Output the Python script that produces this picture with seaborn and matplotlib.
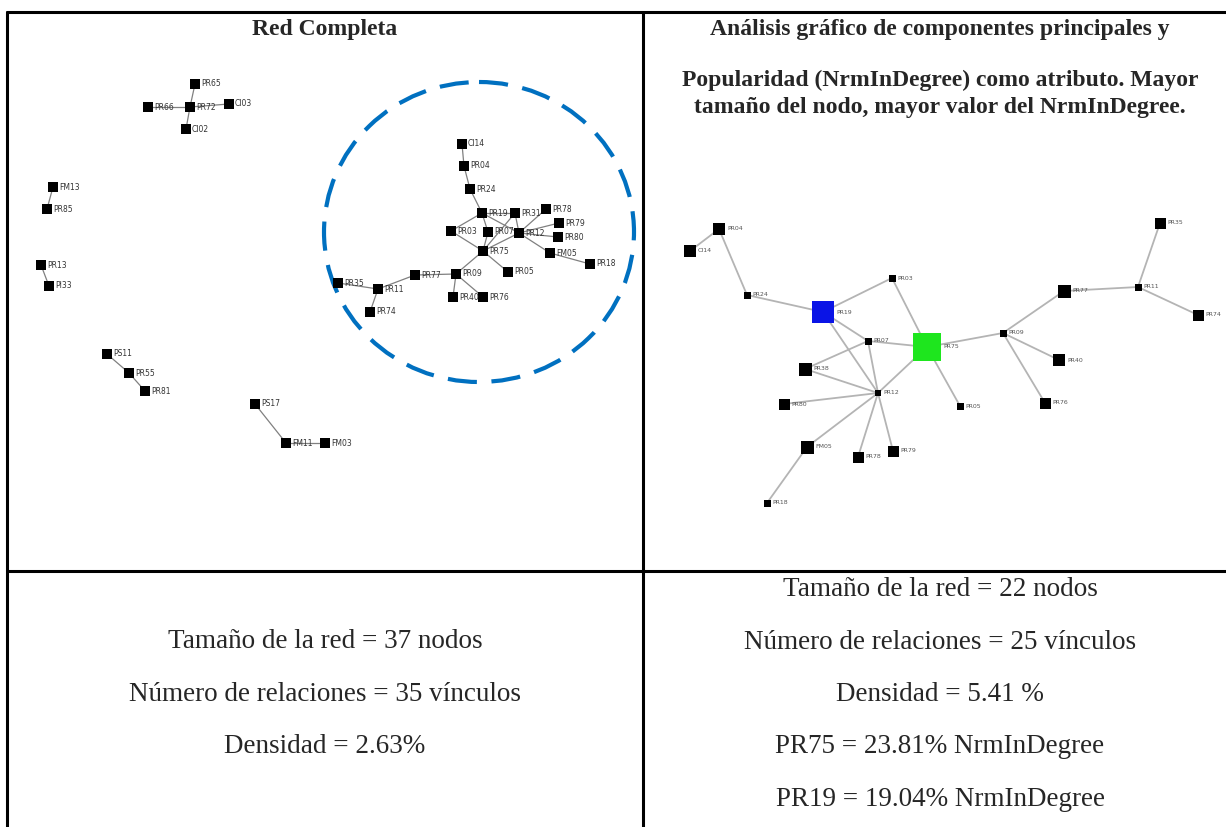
import matplotlib
matplotlib.use("Agg")
import matplotlib.pyplot as plt
from matplotlib.patches import Ellipse
import seaborn as sns
import pandas as pd

sns.set_theme(style="white")
plt.rcParams['font.family'] = ['Liberation Serif', 'DejaVu Serif']

# ---- left panel: complete network (pixel positions)
left_names = ["PR65", "PR66", "PR72", "CI03", "CI02", "FM13", "PR85", "PR13", "PI33",
              "PS11", "PR55", "PR81", "PS17", "FM11", "FM03",
              "CI14", "PR04", "PR24", "PR19", "PR31", "PR78", "PR79", "PR80", "PR03",
              "PR07", "PR12", "PR75", "FM05", "PR18", "PR05", "PR09", "PR77", "PR35",
              "PR11", "PR74", "PR40", "PR76"]
left_x = [195, 148, 190, 229, 186, 53, 47, 41, 49, 107, 129, 145, 255, 286, 325,
          462, 464, 470, 482, 515, 546, 559, 558, 451, 488, 519, 483, 550, 590, 508,
          456, 415, 338, 378, 370, 453, 483]
left_y = [84, 107, 107, 104, 129, 187, 209, 265, 286, 354, 373, 391, 404, 443, 443,
          144, 166, 189, 213, 213, 209, 223, 237, 231, 232, 233, 251, 253, 264, 272,
          274, 275, 283, 289, 312, 297, 297]
left_edges = [("PR65", "PR72"), ("PR66", "PR72"), ("CI03", "PR72"), ("CI02", "PR72"),
              ("FM13", "PR85"), ("PR13", "PI33"), ("PS11", "PR55"), ("PR55", "PR81"),
              ("PS17", "FM11"), ("FM03", "FM11"),
              ("PR04", "CI14"), ("PR24", "PR04"), ("PR19", "PR24"), ("PR19", "PR31"),
              ("PR19", "PR12"), ("PR31", "PR12"), ("PR19", "PR07"), ("PR07", "PR75"),
              ("PR12", "PR78"), ("PR12", "PR79"), ("PR12", "PR80"), ("PR12", "FM05"),
              ("FM05", "PR18"), ("PR03", "PR75"), ("PR12", "PR75"), ("PR75", "PR05"),
              ("PR75", "PR09"), ("PR09", "PR77"), ("PR09", "PR40"), ("PR09", "PR76"),
              ("PR77", "PR11"), ("PR11", "PR35"), ("PR11", "PR74"), ("PR03", "PR19"),
              ("PR31", "PR75")]

# ---- right panel: component with NrmInDegree as node size
right_names = ["PR04", "CI14", "PR03", "PR24", "PR19", "PR07", "PR75", "PR38", "PR12",
               "PR80", "FM05", "PR78", "PR79", "PR18", "PR05", "PR09", "PR40", "PR76",
               "PR77", "PR11", "PR35", "PR74"]
right_x = [719, 690, 892, 747, 823, 868, 927, 805, 878, 784, 807, 858, 893, 767, 960,
           1003, 1059, 1045, 1064, 1138, 1160, 1198]
right_y = [229, 251, 278, 295, 312, 341, 347, 369, 393, 404, 447, 457, 451, 503, 406,
           333, 360, 403, 291, 287, 223, 315]
right_size = [12, 12, 7, 7, 22, 7, 28, 13, 6, 11, 13, 11, 11, 7, 7, 7, 12, 11, 13, 7, 11, 11]
right_edges = [("PR04", "CI14"), ("PR04", "PR24"), ("PR24", "PR19"), ("PR19", "PR03"),
               ("PR03", "PR75"), ("PR19", "PR07"), ("PR19", "PR12"), ("PR07", "PR75"),
               ("PR07", "PR38"), ("PR07", "PR12"), ("PR12", "PR38"), ("PR12", "PR80"),
               ("PR12", "FM05"), ("PR12", "PR78"), ("PR12", "PR79"), ("PR12", "PR75"),
               ("FM05", "PR18"), ("PR75", "PR05"), ("PR75", "PR09"), ("PR09", "PR77"),
               ("PR09", "PR40"), ("PR09", "PR76"), ("PR77", "PR11"), ("PR11", "PR35"),
               ("PR11", "PR74")]
highlight = {"PR75": "#1ee61e", "PR19": "#0a14e6"}

left_title = "Red Completa"
right_title = ["Análisis gráfico de componentes principales y",
               "Popularidad (NrmInDegree) como atributo. Mayor",
               "tamaño del nodo, mayor valor del NrmInDegree."]
left_lines = ["Tamaño de la red = 37 nodos", "Número de relaciones = 35 vínculos",
              "Densidad = 2.63%"]
right_lines = ["Tamaño de la red = 22 nodos", "Número de relaciones = 25 vínculos",
               "Densidad = 5.41 %", "PR75 = 23.81% NrmInDegree",
               "PR19 = 19.04% NrmInDegree"]

left_df = pd.DataFrame({"name": left_names, "x": left_x, "y": left_y})
right_df = pd.DataFrame({"name": right_names, "x": right_x, "y": right_y,
                         "size": right_size})
right_df["color"] = [highlight.get(n, "black") for n in right_names]

fig = plt.figure(figsize=(12.26, 8.27), dpi=100)
ax = fig.add_axes([0, 0, 1, 1])
ax.set_xlim(0, 1226)
ax.set_ylim(827, 0)
ax.axis("off")

# table frame
lw = 2.2
ax.plot([7, 1226], [12, 12], color="black", lw=lw)
ax.plot([7, 7], [12, 827], color="black", lw=lw)
ax.plot([643, 643], [12, 827], color="black", lw=lw)
ax.plot([7, 1226], [571, 571], color="black", lw=lw)

# left network
lpos = left_df.set_index("name")
for a, b in left_edges:
    ax.plot([lpos.x[a], lpos.x[b]], [lpos.y[a], lpos.y[b]], color="#808080", lw=0.9,
            zorder=1)
sns.scatterplot(data=left_df, x="x", y="y", marker="s", s=60, color="black",
                edgecolor="none", ax=ax, zorder=3, legend=False)
for n, x, y in zip(left_names, left_x, left_y):
    ax.text(x + 6, y, n, fontsize=5.5, family="DejaVu Sans", color="#333333",
            va="center", ha="left", zorder=4)
ax.add_patch(Ellipse((479, 232), 310, 300, fill=False, edgecolor="#0070C0", lw=3,
                     linestyle=(0, (7, 3.5)), zorder=2))

# right network
rpos = right_df.set_index("name")
for a, b in right_edges:
    ax.plot([rpos.x[a], rpos.x[b]], [rpos.y[a], rpos.y[b]], color="#b4b4b4", lw=1.3,
            zorder=1)
sns.scatterplot(data=right_df, x="x", y="y", marker="s",
                s=[(v * 0.72) ** 2 for v in right_size], hue="name",
                palette=dict(zip(right_names, right_df["color"])),
                edgecolor="none", ax=ax, zorder=3, legend=False)
for n, x, y, sz in zip(right_names, right_x, right_y, right_size):
    ax.text(x + sz / 2 + 2, y, n, fontsize=4.5, family="DejaVu Sans", color="#555555",
            va="center", ha="left", zorder=4)

# headers
ax.text(325, 35, left_title, ha="center", va="baseline", fontsize=17,
        fontweight="bold")
for txt, y in zip(right_title, [35, 86, 113]):
    ax.text(940, y, txt, ha="center", va="baseline", fontsize=17, fontweight="bold")

# bottom row
for txt, y in zip(left_lines, [648, 701, 753]):
    ax.text(325, y, txt, ha="center", va="baseline", fontsize=19.5)
for txt, y in zip(right_lines, [596, 649, 701, 753, 806]):
    ax.text(940, y, txt, ha="center", va="baseline", fontsize=19.5)

fig.savefig("out.png", dpi=100)
